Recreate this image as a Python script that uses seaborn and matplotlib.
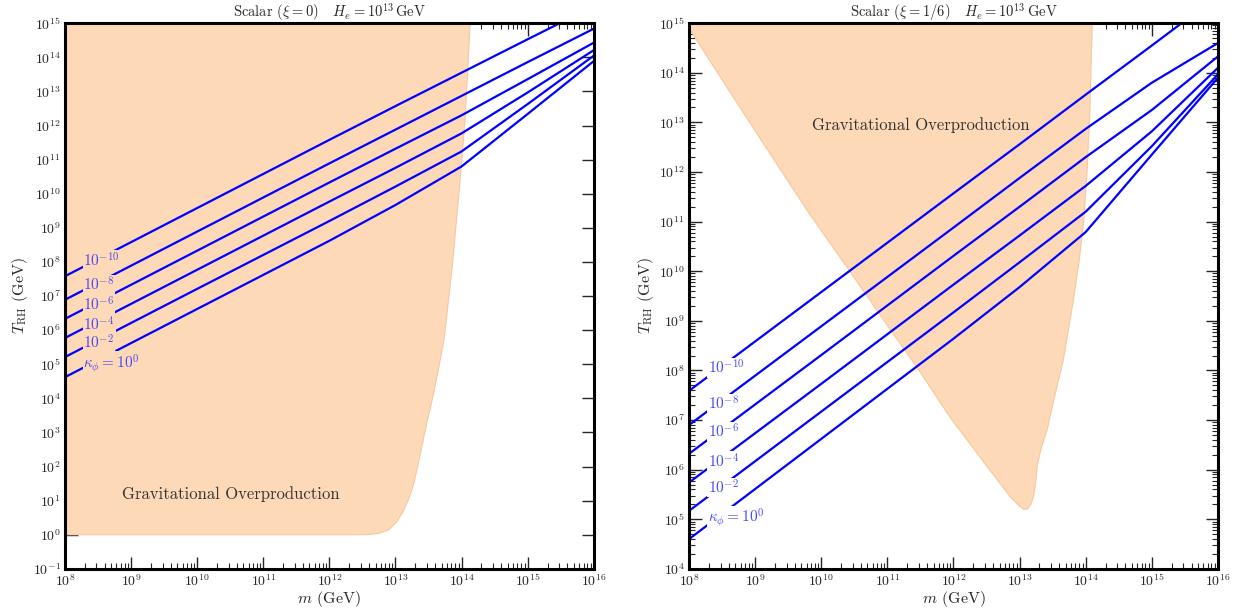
import numpy as np
import pandas as pd
import matplotlib
matplotlib.use("Agg")
from matplotlib import pyplot as plt
from matplotlib.ticker import LogLocator, NullLocator, NullFormatter
import seaborn as sns

# log10 of m (GeV) where the curves are sampled
log_m = [8, 10, 12, 13, 14, 15, 16]
kappa_exps = [-10, -8, -6, -4, -2, 0]

# left panel: xi = 0, log10 T_RH (GeV) for each kappa_phi
left_k10 = [7.58, 9.58, 11.58, 12.57, 13.55, 14.53, 15.50]
left_k8 = [6.89, 8.89, 10.89, 11.88, 12.87, 13.86, 14.84]
left_k6 = [6.33, 8.33, 10.33, 11.32, 12.30, 13.36, 14.43]
left_k4 = [5.77, 7.77, 9.77, 10.76, 11.77, 12.97, 14.21]
left_k2 = [5.21, 7.21, 9.20, 10.21, 11.24, 12.63, 14.05]
left_k0 = [4.62, 6.62, 8.62, 9.67, 10.80, 12.34, 13.89]

# right panel: xi = 1/6
right_k10 = [7.59, 9.58, 11.57, 12.56, 13.56, 14.55, 15.55]
right_k8 = [6.90, 8.89, 10.88, 11.88, 12.87, 13.80, 14.60]
right_k6 = [6.32, 8.31, 10.31, 11.30, 12.30, 13.25, 14.33]
right_k4 = [5.74, 7.73, 9.73, 10.72, 11.72, 12.82, 14.10]
right_k2 = [5.17, 7.17, 9.17, 10.18, 11.20, 12.52, 13.97]
right_k0 = [4.60, 6.62, 8.64, 9.68, 10.79, 12.35, 13.90]

# gravitational overproduction regions (log10 m, log10 T_RH)
left_excl_m = [8, 12.55, 12.75, 12.9, 13.02, 13.12, 13.2, 13.27, 13.33, 13.4, 13.47,
               13.56, 13.65, 13.74, 13.86, 13.96, 14.05, 14.13, 8]
left_excl_T = [0, 0, 0.04, 0.15, 0.38, 0.7, 1.05, 1.45, 1.95, 2.6, 3.25,
               4.0, 4.85, 5.8, 7.9, 10.0, 12.1, 15.0, 15.0]

right_excl_m = [8, 8.0, 8.6, 9.2, 9.8, 10.42, 10.95, 11.48, 11.95, 12.46, 12.86, 13.0, 13.06,
                13.12, 13.17, 13.21, 13.24, 13.27, 13.32, 13.42, 13.52, 13.66, 13.8, 13.9,
                13.97, 14.02, 14.06, 14.1]
right_excl_T = [15, 14.9, 13.65, 12.42, 11.2, 10.02, 9.0, 8.0, 7.05, 6.15, 5.45, 5.26, 5.2,
                5.21, 5.3, 5.45, 5.7, 6.1, 6.4, 6.82, 7.42, 8.2, 9.3, 10.2,
                11.0, 12.0, 13.1, 15.0]

# label positions (log10 T) for the kappa annotations
label_logT = [8.05, 7.33, 6.76, 6.17, 5.64, 5.03]
label_logm = 8.28

sns.set_style("ticks")
plt.rcParams["font.family"] = ["cmr10", "DejaVu Serif"]
plt.rcParams["mathtext.fontset"] = "cm"
plt.rcParams["axes.unicode_minus"] = False
plt.rcParams["axes.formatter.use_mathtext"] = True

fill_color = "#fdd9b7"
line_color = "#0000ff"
label_color = "#4a4af2"


def long_table(curves):
    rows = []
    for exp, vals in zip(kappa_exps, curves):
        for lm, lt in zip(log_m, vals):
            rows.append({"m": 10.0 ** lm, "T": 10.0 ** lt, "kappa": str(exp)})
    return pd.DataFrame(rows)


def kappa_text(exp):
    if exp == 0:
        return r"$\kappa_\phi = 10^{0}$"
    return r"$10^{%d}$" % exp


def draw_panel(ax, curves, excl_m, excl_T, ymin, title, text_pos, bg, minor_y):
    ax.set_xscale("log")
    ax.set_yscale("log")
    ax.fill(10.0 ** np.array(excl_m), 10.0 ** np.array(excl_T),
            facecolor=fill_color, edgecolor="#f6c8a0", lw=0.8, zorder=1)

    df = long_table(curves)
    sns.lineplot(data=df, x="m", y="T", hue="kappa", palette=[line_color] * 6,
                 estimator=None, sort=True, lw=1.6, legend=False, ax=ax, zorder=2)

    for exp, lt in zip(kappa_exps, label_logT):
        ax.text(10 ** label_logm, 10 ** lt, kappa_text(exp), color=label_color,
                fontsize=11, va="center", ha="left", zorder=3,
                bbox=dict(facecolor=bg, edgecolor="none", pad=0.6))

    ax.text(10 ** text_pos[0], 10 ** text_pos[1], "Gravitational Overproduction",
            fontsize=12, ha="center", va="center", color="#333333", zorder=3)

    ax.set_xlim(1e8, 1e16)
    ax.set_ylim(10.0 ** ymin, 1e15)
    ax.xaxis.set_major_locator(LogLocator(base=10, numticks=30))
    ax.yaxis.set_major_locator(LogLocator(base=10, numticks=30))
    ax.xaxis.set_minor_locator(LogLocator(base=10, subs=np.arange(2, 10), numticks=100))
    if minor_y:
        ax.yaxis.set_minor_locator(LogLocator(base=10, subs=np.arange(2, 10), numticks=100))
    else:
        ax.yaxis.set_minor_locator(NullLocator())
    ax.xaxis.set_minor_formatter(NullFormatter())
    ax.yaxis.set_minor_formatter(NullFormatter())

    ax.tick_params(which="both", direction="in", top=True, right=True, labelsize=10, pad=3)
    ax.tick_params(which="major", length=9, width=1.0)
    ax.tick_params(which="minor", length=4.5, width=0.8)
    for sp in ax.spines.values():
        sp.set_linewidth(2.2)
        sp.set_color("black")

    ax.set_xlabel(r"$m$ (GeV)", fontsize=11.5, labelpad=0)
    ax.set_ylabel(r"$T_{\rm RH}$ (GeV)", fontsize=11.5, labelpad=2)
    ax.set_title(title, fontsize=10.5, pad=4)


fig = plt.figure(figsize=(12.42, 6.11), dpi=100)
ax1 = fig.add_axes([0.0523, 0.069, 0.4258, 0.893])
ax2 = fig.add_axes([0.5548, 0.069, 0.4258, 0.893])

draw_panel(ax1, [left_k10, left_k8, left_k6, left_k4, left_k2, left_k0],
           left_excl_m, left_excl_T, -1,
           r"Scalar ($\xi = 0$)   $H_e = 10^{13}\,$GeV", (10.51, 1.19), fill_color, False)
draw_panel(ax2, [right_k10, right_k8, right_k6, right_k4, right_k2, right_k0],
           right_excl_m, right_excl_T, 4,
           r"Scalar ($\xi = 1/6$)   $H_e = 10^{13}\,$GeV", (11.51, 12.94), "white", True)

fig.savefig("out.png", dpi=100)
